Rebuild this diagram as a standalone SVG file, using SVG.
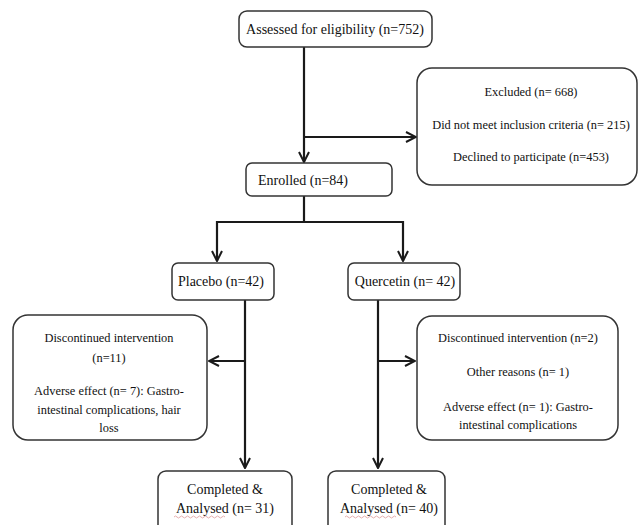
<svg xmlns="http://www.w3.org/2000/svg" width="640" height="525" viewBox="0 0 640 525">
<style>
.box{fill:#fff;stroke:#333;stroke-width:1.5}
.t{font-family:"Liberation Serif","Times New Roman",serif;fill:#111;text-anchor:middle}
.m{font-size:14px}
.s{font-size:12.4px}
.c{fill:none;stroke:#1a1a1a;stroke-width:2.2}
</style>
<defs>
<marker id="ah" viewBox="0 0 12 12" refX="11" refY="6" markerWidth="12" markerHeight="12" markerUnits="userSpaceOnUse" orient="auto">
<path d="M1,1 L11,6 L1,11" fill="none" stroke="#1a1a1a" stroke-width="2"/>
</marker>
</defs>
<rect width="640" height="525" fill="#fff"/>
<g id="connectors">
<line class="c" x1="304" y1="47" x2="304" y2="162" marker-end="url(#ah)"/>
<line class="c" x1="304" y1="137" x2="416" y2="137" marker-end="url(#ah)"/>
<line class="c" x1="304" y1="196" x2="304" y2="222"/>
<line class="c" x1="217" y1="222" x2="403" y2="222"/>
<line class="c" x1="217" y1="221" x2="217" y2="261" marker-end="url(#ah)"/>
<line class="c" x1="403" y1="221" x2="403" y2="261" marker-end="url(#ah)"/>
<line class="c" x1="245" y1="300" x2="245" y2="468" marker-end="url(#ah)"/>
<line class="c" x1="245" y1="361" x2="209" y2="361" marker-end="url(#ah)"/>
<line class="c" x1="378" y1="300" x2="378" y2="468" marker-end="url(#ah)"/>
<line class="c" x1="378" y1="361" x2="415" y2="361" marker-end="url(#ah)"/>
</g>
<g id="assessed">
<rect class="box" x="239" y="11" width="193" height="36" rx="8"/>
<text class="t m" x="335" y="34">Assessed for eligibility (n=752)</text>
</g>
<g id="excluded">
<rect class="box" x="417" y="68" width="220" height="117" rx="15"/>
<text class="t s" x="531" y="96">Excluded (n= 668)</text>
<text class="t s" x="531" y="129">Did not meet inclusion criteria (n= 215)</text>
<text class="t s" x="531" y="161">Declined to participate (n=453)</text>
</g>
<g id="enrolled">
<rect class="box" x="246" y="163" width="146" height="33" rx="6"/>
<text class="t m" x="303" y="185">Enrolled (n=84)</text>
</g>
<g id="placebo">
<rect class="box" x="172" y="263" width="102" height="37" rx="6"/>
<text class="t m" x="221" y="286">Placebo (n=42)</text>
</g>
<g id="quercetin">
<rect class="box" x="348" y="263" width="112" height="37" rx="6"/>
<text class="t m" x="405" y="286">Quercetin (n= 42)</text>
</g>
<g id="discontinued-placebo">
<rect class="box" x="13" y="315" width="194" height="125" rx="15"/>
<text class="t s" x="109" y="342">Discontinued intervention</text>
<text class="t s" x="109" y="362">(n=11)</text>
<text class="t s" x="109" y="395">Adverse effect (n= 7): Gastro-</text>
<text class="t s" x="109" y="414">intestinal complications, hair</text>
<text class="t s" x="109" y="432">loss</text>
</g>
<g id="discontinued-quercetin">
<rect class="box" x="417" y="316" width="201" height="124" rx="15"/>
<text class="t s" x="518" y="342">Discontinued intervention (n=2)</text>
<text class="t s" x="518" y="376">Other reasons (n= 1)</text>
<text class="t s" x="518" y="411">Adverse effect (n= 1): Gastro-</text>
<text class="t s" x="518" y="429">intestinal complications</text>
</g>
<g id="completed-placebo">
<rect class="box" x="158" y="471" width="134" height="70" rx="8"/>
<text class="t m" x="225" y="494">Completed &amp;</text>
<text class="t m" x="225" y="513">Analysed (n= 31)</text>
<path d="M174,517 q1.5,-2 3,0 t3,0 t3,0 t3,0 t3,0 t3,0 t3,0 t3,0 t3,0 t3,0 t3,0 t3,0 t3,0 t3,0 t3,0 t3,0 t3,0" fill="none" stroke="#d99" stroke-width="0.8"/>
</g>
<g id="completed-quercetin">
<rect class="box" x="328" y="471" width="117" height="70" rx="8"/>
<text class="t m" x="389" y="494">Completed &amp;</text>
<text class="t m" x="389" y="513">Analysed (n= 40)</text>
<path d="M345,517 q1.5,-2 3,0 t3,0 t3,0 t3,0 t3,0 t3,0 t3,0 t3,0 t3,0 t3,0 t3,0 t3,0 t3,0 t3,0 t3,0 t3,0 t3,0" fill="none" stroke="#d99" stroke-width="0.8"/>
</g>
</svg>
